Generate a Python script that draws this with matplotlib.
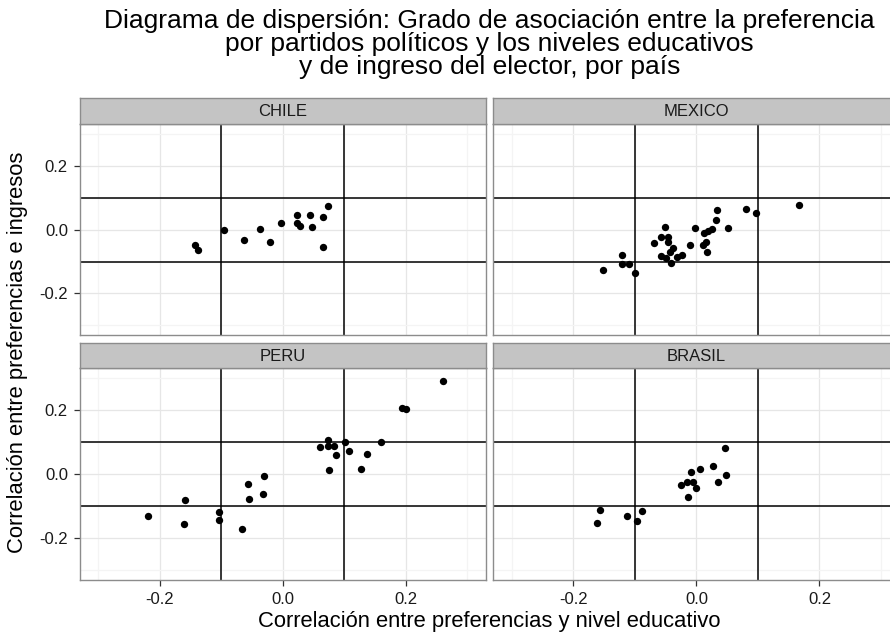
import matplotlib
matplotlib.use("Agg")
import matplotlib.pyplot as plt
from matplotlib.ticker import MultipleLocator

plt.rcParams['font.family'] = ['Liberation Sans', 'DejaVu Sans']

# correlaciones por pais: (nivel educativo, ingresos)
chile_x = [-0.143, -0.137, -0.095, -0.062, -0.036, -0.020, -0.002, 0.023, 0.023, 0.028,
           0.045, 0.048, 0.066, 0.074, 0.066]
chile_y = [-0.048, -0.064, -0.001, -0.033, 0.002, -0.038, 0.020, 0.045, 0.021, 0.010,
           0.046, 0.008, 0.039, 0.074, -0.053]

mexico_x = [-0.152, -0.121, -0.121, -0.109, -0.100, -0.069, -0.058, -0.051, -0.046, -0.046,
            -0.038, -0.043, -0.057, -0.049, -0.041, -0.031, -0.024, -0.010, -0.002, 0.011,
            0.015, 0.018, 0.013, 0.019, 0.026, 0.032, 0.033, 0.051, 0.081, 0.097, 0.166]
mexico_y = [-0.127, -0.079, -0.109, -0.109, -0.137, -0.042, -0.023, 0.007, -0.023, -0.040,
            -0.058, -0.070, -0.083, -0.090, -0.106, -0.087, -0.078, -0.047, 0.005, -0.048,
            -0.040, -0.070, -0.009, -0.004, 0.003, 0.029, 0.060, 0.006, 0.065, 0.053, 0.077]

peru_x = [0.260, 0.194, 0.200, 0.160, 0.101, 0.073, 0.061, 0.073, 0.083, 0.087,
          0.108, 0.137, 0.076, 0.128, -0.030, -0.056, -0.032, -0.054, -0.159, -0.218,
          -0.161, -0.104, -0.104, -0.066]
peru_y = [0.290, 0.205, 0.203, 0.100, 0.099, 0.105, 0.085, 0.087, 0.087, 0.060,
          0.071, 0.061, 0.014, 0.015, -0.006, -0.030, -0.062, -0.079, -0.081, -0.131,
          -0.155, -0.117, -0.142, -0.172]

brasil_x = [0.047, 0.027, 0.006, -0.009, 0.048, 0.035, -0.025, -0.015, -0.006, 0.000,
            -0.014, -0.157, -0.161, -0.112, -0.097, -0.088]
brasil_y = [0.080, 0.026, 0.015, 0.006, -0.003, -0.025, -0.033, -0.025, -0.026, -0.044,
            -0.072, -0.111, -0.152, -0.131, -0.147, -0.114]

paneles = [
    ("CHILE", chile_x, chile_y),
    ("MEXICO", mexico_x, mexico_y),
    ("PERU", peru_x, peru_y),
    ("BRASIL", brasil_x, brasil_y),
]

titulo = ["Diagrama de dispersión: Grado de asociación entre la preferencia",
          "por partidos políticos y los niveles educativos",
          "y de ingreso del elector, por país"]

W, H = 890, 632
fig = plt.figure(figsize=(W / 100, H / 100), dpi=100)
fig.patch.set_facecolor("white")


def caja(x0, y0, x1, y1):
    # pixeles (desde arriba) a fraccion de la figura
    return [x0 / W, 1 - y1 / H, (x1 - x0) / W, (y1 - y0) / H]


def fmt(v, p):
    return f"{v:.1f}".replace("-0.0", "0.0")


col_x = [(79.5, 485.7), (493.3, 899.5)]
fil_y = [(97.5, 124.3, 335.0), (342.5, 368.0, 580.0)]

for i, (nombre, xs, ys) in enumerate(paneles):
    fila, col = divmod(i, 2)
    x0, x1 = col_x[col]
    s0, p0, p1 = fil_y[fila]

    ax = fig.add_axes(caja(x0, p0, x1, p1))
    ax.set_xlim(-0.33, 0.33)
    ax.set_ylim(-0.33, 0.33)
    ax.xaxis.set_major_locator(MultipleLocator(0.2))
    ax.yaxis.set_major_locator(MultipleLocator(0.2))
    ax.xaxis.set_minor_locator(MultipleLocator(0.1))
    ax.yaxis.set_minor_locator(MultipleLocator(0.1))
    ax.grid(which="major", color="#e6e6e6", lw=0.9)
    ax.grid(which="minor", color="#f4f4f4", lw=0.9)
    ax.set_axisbelow(True)

    for v in (-0.1, 0.1):
        ax.axvline(v, color="black", lw=1.1, zorder=2)
        ax.axhline(v, color="black", lw=1.1, zorder=2)

    ax.scatter(xs, ys, s=28, color="black", lw=0, zorder=3)

    for lado in ax.spines.values():
        lado.set_color("#8c8c8c")
        lado.set_linewidth(1.0)

    ax.tick_params(which="minor", length=0)
    ax.tick_params(which="major", length=4.3, width=0.9, color="#333333",
                   labelsize=12, labelcolor="#1a1a1a", pad=4)
    ax.xaxis.set_major_formatter(plt.FuncFormatter(fmt))
    ax.yaxis.set_major_formatter(plt.FuncFormatter(fmt))
    if fila == 0:
        ax.tick_params(axis="x", which="both", bottom=False, labelbottom=False)
    if col == 1:
        ax.tick_params(axis="y", which="both", left=False, labelleft=False)

    tira = fig.add_axes(caja(x0, s0, x1, p0))
    tira.set_facecolor("#c4c4c4")
    tira.set_xticks([])
    tira.set_yticks([])
    for lado in tira.spines.values():
        lado.set_color("#8c8c8c")
        lado.set_linewidth(1.0)
    tira.text(0.5, 0.47, nombre, ha="center", va="center", fontsize=12,
              color="#1a1a1a", transform=tira.transAxes)

centro_x = (79.5 + 899.5) / 2 / W
for linea, base in zip(titulo, (28, 51, 74)):
    fig.text(centro_x, 1 - base / H, linea, ha="center", va="baseline", fontsize=19)

fig.text(centro_x, 1 - 627 / H, "Correlación entre preferencias y nivel educativo",
         ha="center", va="baseline", fontsize=15.8)
fig.text(18 / W, 1 - 352 / H, "Correlación entre preferencias e ingresos",
         ha="center", va="center", rotation=90, fontsize=15.8)

fig.savefig("out.png", dpi=100)
